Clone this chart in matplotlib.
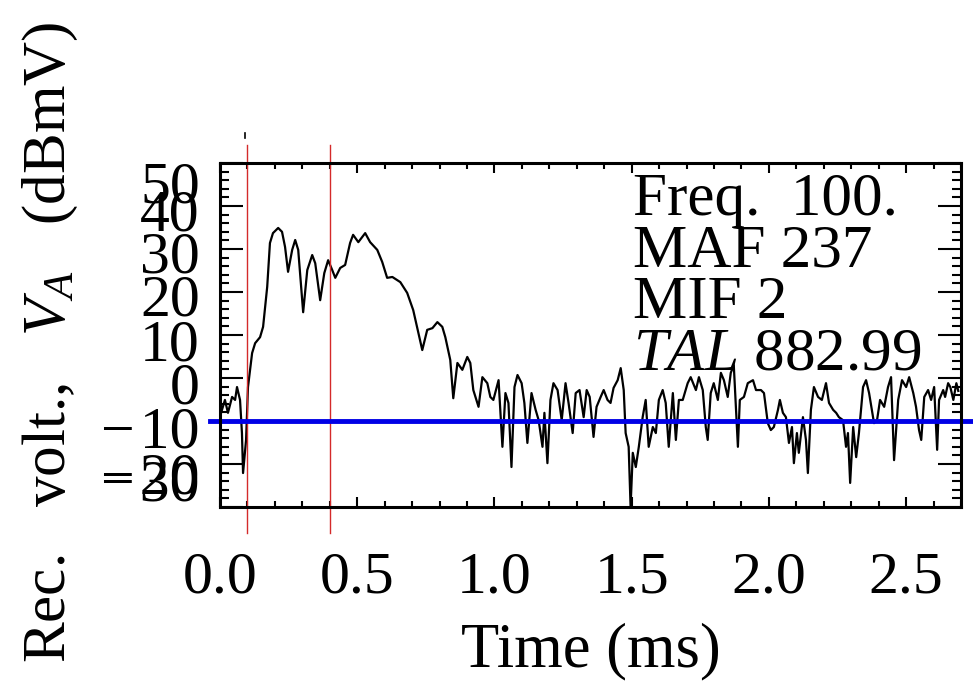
"""Receiver voltage trace vs time"""

import matplotlib
matplotlib.use("Agg")
from matplotlib import pyplot as plt
from matplotlib.ticker import MultipleLocator, FixedLocator
from matplotlib.transforms import blended_transform_factory, offset_copy

# trace: time (ms) and voltage (dBmV)
time_ms = [
    0.004, 0.018, 0.029, 0.044, 0.055, 0.062, 0.073, 0.080, 0.084, 0.095,
    0.102, 0.117, 0.128, 0.146, 0.157, 0.172, 0.182, 0.193, 0.212, 0.226,
    0.237, 0.248, 0.263, 0.274, 0.285, 0.303, 0.318, 0.336, 0.347, 0.365,
    0.380, 0.394, 0.409, 0.420, 0.438, 0.456, 0.474, 0.485, 0.504, 0.529,
    0.547, 0.573, 0.591, 0.609, 0.628, 0.657, 0.682, 0.704, 0.737, 0.755,
    0.774, 0.792, 0.810, 0.821, 0.839, 0.850, 0.865, 0.883, 0.901, 0.912,
    0.923, 0.942, 0.956, 0.974, 0.985, 0.996, 1.015, 1.029, 1.040, 1.051,
    1.062, 1.073, 1.084, 1.099, 1.109, 1.120, 1.135, 1.150, 1.161, 1.175,
    1.182, 1.193, 1.204, 1.215, 1.230, 1.245, 1.259, 1.270, 1.285, 1.296,
    1.310, 1.325, 1.336, 1.347, 1.361, 1.372, 1.387, 1.398, 1.412, 1.423,
    1.434, 1.449, 1.460, 1.471, 1.478, 1.489, 1.496, 1.504, 1.515, 1.526,
    1.540, 1.551, 1.562, 1.577, 1.588, 1.599, 1.613, 1.624, 1.635, 1.650,
    1.661, 1.672, 1.686, 1.704, 1.715, 1.734, 1.745, 1.759, 1.770, 1.777,
    1.788, 1.799, 1.814, 1.825, 1.836, 1.850, 1.861, 1.872, 1.887, 1.894,
    1.909, 1.923, 1.942, 1.953, 1.971, 1.982, 1.996, 2.007, 2.018, 2.033,
    2.040, 2.051, 2.062, 2.073, 2.084, 2.091, 2.102, 2.109, 2.124, 2.135,
    2.142, 2.153, 2.164, 2.179, 2.193, 2.208, 2.219, 2.234, 2.245, 2.255,
    2.270, 2.281, 2.288, 2.296, 2.307, 2.318, 2.328, 2.343, 2.354, 2.365,
    2.383, 2.394, 2.405, 2.420, 2.434, 2.445, 2.456, 2.471, 2.485, 2.500,
    2.511, 2.526, 2.536, 2.547, 2.555, 2.566, 2.580, 2.591, 2.602, 2.613,
    2.620, 2.635, 2.642, 2.653, 2.661, 2.672, 2.683, 2.690,
]
volt_dbmv = [
    -8.1, -5.1, -8.1, -4.4, -5.1, -2.1, -5.1, -12.8, -22.1, -14.4,
    -2.1, 5.8, 8.1, 9.5, 11.9, 21.2, 31.4, 33.7, 34.9, 34.0,
    30.5, 24.7, 29.8, 32.1, 29.8, 15.3, 25.1, 28.6, 26.7, 18.1,
    24.4, 27.4, 25.1, 23.3, 25.6, 26.3, 31.4, 33.3, 31.6, 33.7,
    31.6, 29.8, 27.0, 23.3, 23.5, 22.3, 19.8, 15.8, 6.5, 11.2,
    11.6, 13.0, 11.9, 9.5, 4.2, -4.7, 3.5, 1.9, 4.9, 3.5,
    -2.8, -6.7, 0.2, -1.2, -4.4, -5.1, -0.5, -16.0, -3.5, -5.8,
    -20.7, -2.1, 0.7, -1.2, -5.8, -15.1, -3.5, -7.4, -9.8, -16.0,
    -8.1, -19.8, -5.1, -1.2, -2.8, -9.8, -1.2, -5.8, -12.8, -3.5,
    -2.8, -9.1, -2.8, -4.4, -13.7, -6.7, -4.4, -2.8, -5.1, -5.8,
    -2.3, -0.5, 2.3, -2.8, -12.8, -16.0, -30.0, -17.4, -20.7, -16.0,
    -9.1, -5.1, -16.0, -11.4, -12.8, -5.1, -2.8, -5.8, -16.0, -3.5,
    -14.4, -5.1, -5.1, -1.2, 0.2, -2.8, 0.2, -2.8, -11.4, -14.4,
    -3.5, -1.2, -5.1, 1.2, -0.5, -4.4, 1.2, 3.0, -16.0, -5.1,
    -4.4, -1.2, -0.5, -2.8, -2.8, -3.5, -10.5, -12.1, -11.4, -7.4,
    -5.1, -8.1, -9.1, -15.1, -11.4, -19.8, -12.8, -17.4, -9.1, -14.4,
    -22.1, -7.4, -2.1, -4.4, -5.1, -1.2, -5.8, -7.4, -8.1, -9.1,
    -9.8, -16.0, -12.8, -24.4, -11.4, -18.4, -12.8, -2.1, -0.5, -3.5,
    -10.5, -9.8, -5.1, -6.7, -2.1, 0.2, -19.1, -5.1, -0.5, -2.1,
    0.2, -3.5, -6.7, -12.1, -14.4, -4.4, -2.8, -5.1, -2.1, -16.7,
    -5.1, -2.8, -4.4, -1.2, -2.1, -5.1, -1.2, -3.0,
]

x_ticks = [0.0, 0.5, 1.0, 1.5, 2.0, 2.5]
x_tick_labels = ["0.0", "0.5", "1.0", "1.5", "2.0", "2.5"]
y_ticks = [50, 40, 30, 20, 10, 0, -10, -20, -30]
gate_times = [0.1, 0.4]      # red vertical markers (ms)
ref_level = -10              # blue reference level (dBmV)
info_lines = ["Freq.  100.", "MAF 237", "MIF 2", "$TAL$ 882.99"]

# layout of the crowded y labels (pixels below each tick)
ylab_drop_px = [39, 24, 23, 23, 25, 25, 26, 29, -7]

plt.rcParams.update(
    {
        "font.family": ["Liberation Serif", "DejaVu Serif"],
        "mathtext.fontset": "custom",
        "mathtext.rm": "Liberation Serif",
        "mathtext.it": "Liberation Serif:italic",
    }
)

fig = plt.figure(figsize=(9.73, 6.81), dpi=100)
ax = fig.add_axes([0.2261, 0.2555, 0.7616, 0.5051])

ax.plot(time_ms, volt_dbmv, color="black", lw=1.6)
for t in gate_times:
    ax.axvline(t, ymin=-0.076, ymax=1.052, color="#d42a2a", lw=1.0, clip_on=False)
ax.plot([-0.036, 2.75], [ref_level, ref_level], color="#0000e6", lw=3.5, clip_on=False)
# small mark above the frame
ax.plot([0.09, 0.09], [55.8, 57.0], color="black", lw=1.2, clip_on=False)

ax.set_xlim(0, 2.7)
ax.set_ylim(-30, 50)

ax.xaxis.set_major_locator(FixedLocator(x_ticks))
ax.xaxis.set_minor_locator(MultipleLocator(0.1))
ax.set_xticklabels(x_tick_labels)
ax.yaxis.set_major_locator(FixedLocator(y_ticks))
ax.yaxis.set_minor_locator(MultipleLocator(2))

ax.tick_params(axis="x", which="major", direction="in", length=7.2, width=1.5,
               top=True, labelsize=43, pad=32)
ax.tick_params(axis="x", which="minor", direction="in", length=4.3, width=1.5, top=True)
ax.tick_params(axis="y", which="major", direction="in", length=16.5, width=1.5,
               right=True, labelleft=False)
ax.tick_params(axis="y", which="minor", direction="in", length=6.5, width=1.5, right=True)

for sp in ax.spines.values():
    sp.set_linewidth(2.2)

# y tick labels drawn by hand, shifted like the original
base = blended_transform_factory(ax.transAxes, ax.transData)
for val, drop in zip(y_ticks, ylab_drop_px):
    label = f"{abs(val)}" if val >= 0 else f"\u2212\u200a{abs(val)}"
    tr = offset_copy(base, fig=fig, x=-20, y=-drop, units="dots")
    ax.text(0, val, label, transform=tr, ha="right", va="baseline", fontsize=43)

for i, line in enumerate(info_lines):
    ax.text(0.557, 0.849 - i * 0.150, line, transform=ax.transAxes,
            ha="left", va="baseline", fontsize=44)

ax.set_xlabel("Time (ms)", fontsize=45)
ax.xaxis.set_label_coords(0.5, -0.335)
ax.set_ylabel("Rec.   volt.,   $V_A$   (dBmV)", fontsize=44)
ax.yaxis.set_label_coords(-0.189, 0.48)

fig.savefig("out.png", dpi=100)
